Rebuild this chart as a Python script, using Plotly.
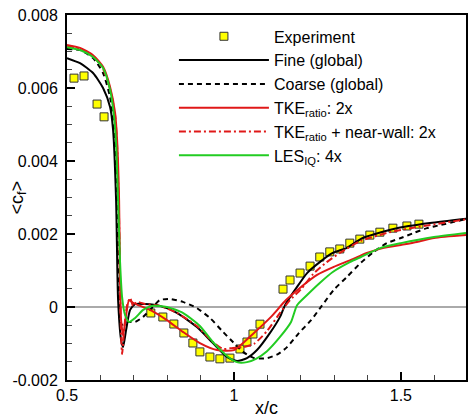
import plotly.graph_objects as go

# ---- data ----
exp_x = [0.521, 0.551, 0.590, 0.611,
         0.751, 0.787, 0.820, 0.850, 0.877, 0.898, 0.928, 0.958, 0.988,
         1.018, 1.039, 1.057, 1.078, 1.147, 1.168, 1.198, 1.228, 1.257,
         1.287, 1.317, 1.347, 1.377, 1.407, 1.437, 1.476, 1.518, 1.554]
exp_y = [0.00627, 0.00633, 0.00556, 0.00521,
         -0.000164, -0.000274, -0.000466, -0.000712, -0.000986, -0.00123, -0.00137, -0.00142, -0.00140,
         -0.00115, -0.00096, -0.00074, -0.00047, 0.00049, 0.00074, 0.00093, 0.00112, 0.00137,
         0.00151, 0.00159, 0.00175, 0.00186, 0.00197, 0.00205, 0.00216, 0.00222, 0.00227]

fine_x = [0.500, 0.539, 0.578, 0.608, 0.629, 0.638, 0.647, 0.653, 0.662, 0.668, 0.677, 0.689,
          0.704, 0.734, 0.778, 0.829, 0.889, 0.937, 0.979, 1.009, 1.039, 1.069, 1.108, 1.138,
          1.153, 1.189, 1.219, 1.257, 1.296, 1.338, 1.386, 1.488, 1.587, 1.695]
fine_y = [0.00682, 0.00668, 0.00641, 0.00600, 0.00548, 0.00485, 0.00293, 0.00019, -0.00090, -0.00110,
          -0.00063, -0.00008, 0.00008, 0.00008, 0.00003, -0.00016, -0.00055, -0.00099, -0.00137,
          -0.00148, -0.00140, -0.00118, -0.00071, -0.00027, 0.00005, 0.00055, 0.00093, 0.00123,
          0.00148, 0.00162, 0.00189, 0.00216, 0.00230, 0.00242]

coarse_x = [0.500, 0.539, 0.578, 0.608, 0.629, 0.641, 0.650, 0.656, 0.662, 0.683, 0.704, 0.728,
            0.757, 0.778, 0.808, 0.847, 0.889, 0.928, 0.967, 0.997, 1.027, 1.060, 1.099, 1.132,
            1.159, 1.195, 1.231, 1.263, 1.299, 1.338, 1.380, 1.419, 1.458, 1.500, 1.539, 1.578,
            1.620, 1.695]
coarse_y = [0.00707, 0.00704, 0.00682, 0.00641, 0.00575, 0.00485, 0.00293, 0.00019, -0.00049,
            -0.00041, -0.00041, -0.00027, 0.0, 0.00019, 0.00022, 0.00014, -0.00003, -0.00030,
            -0.00068, -0.00096, -0.00123, -0.00140, -0.00140, -0.00129, -0.00110, -0.00071,
            -0.00036, 0.00003, 0.00047, 0.00082, 0.00121, 0.00151, 0.00175, 0.00189, 0.00203,
            0.00216, 0.00225, 0.00241]

tke_x = [0.500, 0.539, 0.578, 0.608, 0.629, 0.644, 0.650, 0.656, 0.659, 0.662, 0.668, 0.677,
         0.686, 0.698, 0.719, 0.749, 0.799, 0.847, 0.898, 0.949, 1.000, 1.060, 1.111, 1.156,
         1.201, 1.249, 1.299, 1.350, 1.398, 1.449, 1.500, 1.548, 1.599, 1.695]
tke_y = [0.00718, 0.00710, 0.00690, 0.00658, 0.00603, 0.00532, 0.00458, 0.00293, 0.00074,
         -0.00036, -0.00077, -0.00022, 0.00019, 0.00011, 0.00003, -0.00008, -0.00036, -0.00068,
         -0.00099, -0.00118, -0.00118, -0.00071, -0.00027, 0.00019, 0.00055, 0.00088, 0.00110,
         0.00129, 0.00148, 0.00162, 0.00170, 0.00178, 0.00189, 0.00197]

tkenw_x = [0.500, 0.539, 0.578, 0.608, 0.629, 0.644, 0.650, 0.656, 0.659, 0.662, 0.665, 0.671,
           0.680, 0.689, 0.698, 0.710, 0.734, 0.778, 0.829, 0.889, 0.937, 0.967, 0.997, 1.027,
           1.060, 1.099, 1.138, 1.168, 1.201, 1.237, 1.278, 1.317, 1.380, 1.467, 1.548, 1.695]
tkenw_y = [0.00716, 0.00707, 0.00688, 0.00652, 0.00597, 0.00526, 0.00444, 0.00238, 0.00047,
           -0.00077, -0.00129, -0.00063, 0.00005, 0.00025, 0.00003, 0.00014, 0.00008, 0.00003,
           -0.00016, -0.00052, -0.00096, -0.00115, -0.00112, -0.00110, -0.00101, -0.00066,
           -0.00016, 0.00019, 0.00049, 0.00090, 0.00123, 0.00148, 0.00181, 0.00205, 0.00219,
           0.00240]

les_x = [0.500, 0.539, 0.578, 0.608, 0.629, 0.641, 0.647, 0.653, 0.659, 0.665, 0.674, 0.686,
         0.704, 0.728, 0.754, 0.799, 0.847, 0.898, 0.937, 0.979, 1.009, 1.039, 1.066, 1.099,
         1.138, 1.171, 1.189, 1.219, 1.257, 1.296, 1.347, 1.380, 1.440, 1.500, 1.599, 1.695]
les_y = [0.00712, 0.00704, 0.00685, 0.00655, 0.00595, 0.00521, 0.00449, 0.00293, 0.00121,
         0.00027, -0.00022, -0.00041, -0.00030, -0.00008, 0.00003, 0.0, -0.00016, -0.00052,
         -0.00096, -0.00134, -0.00151, -0.00151, -0.00142, -0.00121, -0.00082, -0.00041,
         0.00005, 0.00033, 0.00066, 0.00096, 0.00123, 0.00137, 0.00162, 0.00175, 0.00192,
         0.00203]

x_ticks = [0.5, 1, 1.5]
x_tick_labels = ["0.5", "1", "1.5"]
y_ticks = [-0.002, 0, 0.002, 0.004, 0.006, 0.008]
y_tick_labels = ["-0.002", "0", "0.002", "0.004", "0.006", "0.008"]

RED = "#e01818"
GREEN = "#22cc22"
FONT = "Liberation Sans"

fig = go.Figure()
fig.add_trace(go.Scatter(x=exp_x, y=exp_y, mode="markers", name="Experiment",
                         marker=dict(symbol="square", size=8, color="#ffff00",
                                     line=dict(color="#333333", width=1))))
fig.add_trace(go.Scatter(x=fine_x, y=fine_y, mode="lines", name="Fine (global)",
                         line=dict(color="black", width=2, shape="spline", smoothing=0.6)))
fig.add_trace(go.Scatter(x=coarse_x, y=coarse_y, mode="lines", name="Coarse (global)",
                         line=dict(color="black", width=2, dash="5px,4px", shape="spline", smoothing=0.6)))
fig.add_trace(go.Scatter(x=tke_x, y=tke_y, mode="lines", name="TKE<sub>ratio</sub>: 2x",
                         line=dict(color=RED, width=2, shape="spline", smoothing=0.6)))
fig.add_trace(go.Scatter(x=tkenw_x, y=tkenw_y, mode="lines",
                         name="TKE<sub>ratio</sub> + near-wall: 2x",
                         line=dict(color=RED, width=2, dash="7px,3px,2px,3px", shape="spline", smoothing=0.6)))
fig.add_trace(go.Scatter(x=les_x, y=les_y, mode="lines", name="LES<sub>IQ</sub>: 4x",
                         line=dict(color=GREEN, width=2, shape="spline", smoothing=0.6)))

PW = 468 - 67 - 2
PH = 417 - 15 - 37
fig.update_layout(
    width=468, height=417,
    margin=dict(l=67, r=2, t=15, b=37, autoexpand=False),
    paper_bgcolor="white", plot_bgcolor="white",
    font=dict(family=FONT, size=16, color="black"),
    showlegend=True,
    legend=dict(x=0.268, y=0.988, xanchor="left", yanchor="top",
                bgcolor="rgba(0,0,0,0)", borderwidth=0,
                font=dict(family=FONT, size=16), itemwidth=90,
                tracegroupgap=0),
    annotations=[
        dict(text="x/c", x=0.5, y=(417 - 37 - 408) / PH, xref="paper", yref="paper",
             showarrow=False, font=dict(family=FONT, size=18),
             xanchor="center", yanchor="middle"),
        dict(text="&lt;c<sub>f</sub>&gt;", x=(18 - 67) / PW, y=0.5, xref="paper", yref="paper",
             showarrow=False, font=dict(family=FONT, size=18), textangle=-90,
             xanchor="center", yanchor="middle"),
    ],
)

fig.update_xaxes(range=[0.5, 1.695], tickvals=x_ticks, ticktext=x_tick_labels,
                 ticks="inside", ticklen=8, tickwidth=1.5, tickcolor="black",
                 showline=True, linecolor="black", linewidth=2, mirror=True,
                 showgrid=False, zeroline=False, automargin=False,
                 minor=dict(ticks="inside", dtick=0.1, ticklen=5, tickwidth=1, tickcolor="#444"),
                 tickfont=dict(size=16), ticklabelstandoff=0)
fig.update_yaxes(range=[-0.002, 0.008], tickvals=y_ticks, ticktext=y_tick_labels,
                 ticks="inside", ticklen=8, tickwidth=1.5, tickcolor="black",
                 showline=True, linecolor="black", linewidth=2, mirror=True,
                 showgrid=False, zeroline=True, zerolinecolor="#aaaaaa", zerolinewidth=2,
                 automargin=False,
                 minor=dict(ticks="inside", dtick=0.0005, ticklen=5, tickwidth=1, tickcolor="#444"),
                 tickfont=dict(size=16), ticklabelstandoff=4)

fig.write_html("out.html", config={"displayModeBar": False},
               post_script="document.body.style.margin='0';document.body.style.overflow='hidden';")
